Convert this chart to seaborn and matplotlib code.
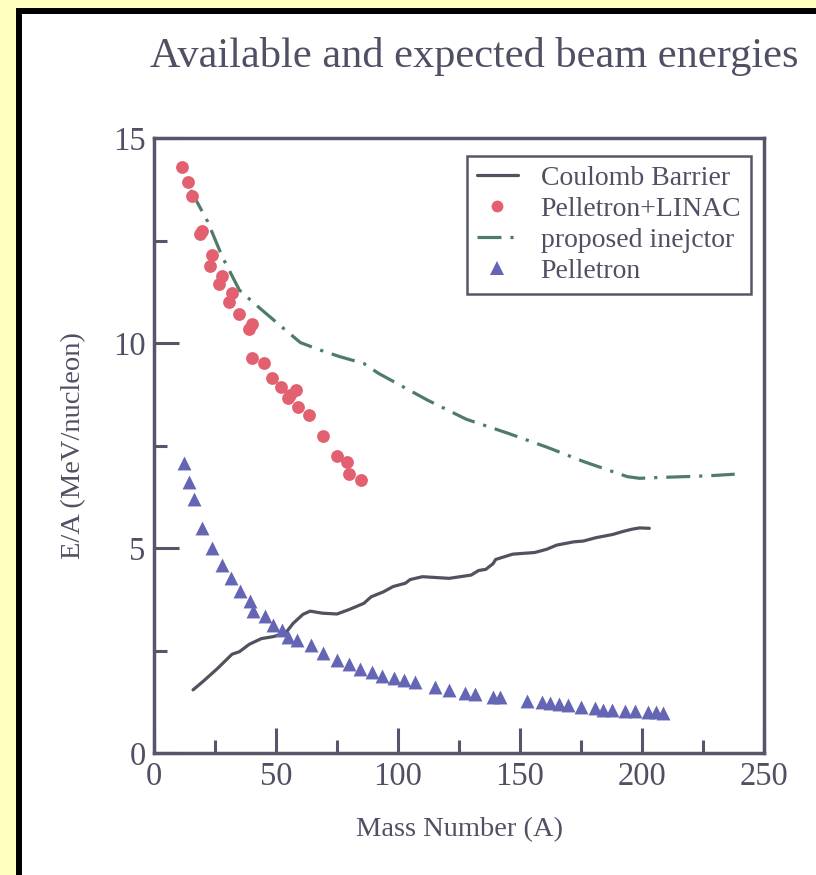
import matplotlib
matplotlib.use("Agg")
import matplotlib.pyplot as plt
from matplotlib.lines import Line2D
from matplotlib.patches import Rectangle
import pandas as pd
import seaborn as sns

# ---------------------------------------------------------------------------
# Data
# ---------------------------------------------------------------------------
coulomb_A = [16, 20, 26, 32, 35, 39, 44, 49, 54, 57, 61, 64, 69, 75, 80, 86,
             89, 94, 98, 103, 105, 110, 121, 130, 133, 136, 139, 140, 147,
             156, 161, 165, 172, 176, 181, 188, 192, 196, 199, 203]
coulomb_E = [1.54, 1.74, 2.06, 2.41, 2.47, 2.65, 2.79, 2.84, 2.93, 3.16, 3.38,
             3.46, 3.41, 3.39, 3.50, 3.65, 3.81, 3.93, 4.06, 4.14, 4.23, 4.30,
             4.26, 4.34, 4.45, 4.48, 4.62, 4.72, 4.85, 4.89, 4.97, 5.07, 5.15,
             5.17, 5.25, 5.33, 5.40, 5.46, 5.49, 5.48]

injector_A = [15, 22, 28, 35, 41, 53, 60, 68, 76, 86, 92, 112, 128, 145, 161,
              176, 194, 199, 207, 227, 238]
injector_E = [13.73, 12.96, 12.10, 11.29, 10.97, 10.36, 10.01, 9.83, 9.67,
              9.50, 9.26, 8.61, 8.14, 7.80, 7.46, 7.11, 6.74, 6.70, 6.72, 6.76,
              6.80]

linac_A = [11.6, 13.8, 15.7, 18.8, 19.8, 23.9, 23.0, 28.0, 26.8, 31.8, 30.9,
           35.0, 40.0, 38.9, 40.3, 45.1, 48.2, 51.9, 55.1, 55.8, 58.1, 59.2,
           63.7, 69.1, 74.9, 79.2, 80.0, 84.7]
linac_E = [14.30, 13.92, 13.59, 12.65, 12.72, 12.15, 11.89, 11.64, 11.43,
           11.23, 11.01, 10.70, 10.46, 10.34, 9.64, 9.52, 9.15, 8.92, 8.65,
           8.73, 8.85, 8.43, 8.24, 7.72, 7.24, 7.09, 6.80, 6.67]

pelletron_A = [12.3, 14.3, 16.4, 19.8, 23.6, 27.7, 31.4, 35.2, 39.3, 40.4,
               45.5, 48.9, 52.3, 55.1, 58.5, 64.2, 69.4, 74.9, 79.9, 84.4,
               89.2, 93.3, 98.4, 102.5, 107, 115.2, 121, 127.5, 131.6, 139,
               141.8, 152.7, 158.9, 162.3, 166.1, 169.5, 174.9, 180.7, 184.1,
               187.6, 193, 197.1, 202.6, 205.7, 208.7]
pelletron_E = [7.07, 6.60, 6.19, 5.50, 5.01, 4.59, 4.26, 3.96, 3.71, 3.47,
               3.33, 3.12, 3.00, 2.84, 2.76, 2.63, 2.43, 2.27, 2.16, 2.04,
               1.98, 1.89, 1.82, 1.78, 1.74, 1.62, 1.54, 1.46, 1.43, 1.37,
               1.37, 1.28, 1.24, 1.21, 1.19, 1.17, 1.13, 1.09, 1.06, 1.05,
               1.03, 1.02, 1.01, 1.01, 0.97]

# ---------------------------------------------------------------------------
# Style
# ---------------------------------------------------------------------------
TEXT = "#505064"
AXIS = "#56566a"
RED = "#e2606f"
BLUE = "#6565b6"
GREEN = "#4f7c68"
LINE = "#52525f"
YELLOW = "#ffffc0"

sns.set_theme(style="ticks")
plt.rcParams["font.family"] = ["Liberation Serif", "DejaVu Serif"]
plt.rcParams["text.color"] = TEXT

fig = plt.figure(figsize=(8.16, 8.75), dpi=100, facecolor=YELLOW)
# white panel with thick black frame (runs off the right and bottom edges)
fig.patches.append(Rectangle((19 / 816, -0.05), 1.0, 1 - 10.5 / 875 + 0.05,
                             transform=fig.transFigure, facecolor="white",
                             edgecolor="black", linewidth=4.3, zorder=-10))

ax = fig.add_axes([154 / 816, 122 / 875, 610 / 816, 615 / 875])
ax.set_facecolor("white")

coulomb = pd.DataFrame({"A": coulomb_A, "E": coulomb_E})
injector = pd.DataFrame({"A": injector_A, "E": injector_E})
linac = pd.DataFrame({"A": linac_A, "E": linac_E})
pelletron = pd.DataFrame({"A": pelletron_A, "E": pelletron_E})

dashdot = (0, (7.5, 2.8, 1, 2.8))

sns.lineplot(data=coulomb, x="A", y="E", ax=ax, color=LINE, linewidth=2.3,
             sort=False, estimator=None)
sns.lineplot(data=injector, x="A", y="E", ax=ax, color=GREEN, linewidth=2.3,
             linestyle=dashdot, sort=False, estimator=None)
sns.scatterplot(data=linac, x="A", y="E", ax=ax, color=RED, marker="o",
                s=85, linewidth=0, zorder=3)
sns.scatterplot(data=pelletron, x="A", y="E", ax=ax, color=BLUE, marker="^",
                s=100, linewidth=0, zorder=3)

ax.set_xlim(0, 250)
ax.set_ylim(0, 15)
ax.set_xticks([0, 50, 100, 150, 200, 250])
ax.set_xticks([25, 75, 125, 175, 225], minor=True)
ax.set_yticks([0, 5, 10, 15])
ax.set_yticks([2.5, 7.5, 12.5], minor=True)
ax.tick_params(which="both", direction="in", color=AXIS, width=2.2,
               labelsize=23.5, labelcolor=TEXT, top=False, right=False)
ax.tick_params(which="major", length=18, pad=6)
ax.tick_params(which="minor", length=9.5)
for spine in ax.spines.values():
    spine.set_color(AXIS)
    spine.set_linewidth(2.5)
    spine.set_visible(True)

ax.set_xlabel("Mass Number (A)", fontsize=20.5, color=TEXT)
ax.set_ylabel("E/A (MeV/nucleon)", fontsize=20.5, color=TEXT)
ax.xaxis.set_label_coords(0.5, -0.104)
ax.yaxis.set_label_coords(-0.112, 0.5)

fig.text(474 / 816, 1 - 67 / 875, "Available and expected beam energies",
         ha="center", va="baseline", fontsize=30.5, color=TEXT)

handles = [
    Line2D([], [], color=LINE, linewidth=2.3),
    Line2D([], [], color=RED, marker="o", linestyle="none", markersize=8.5,
           markeredgewidth=0),
    Line2D([], [], color=GREEN, linewidth=2.3, linestyle=dashdot),
    Line2D([], [], color=BLUE, marker="^", linestyle="none", markersize=9.5,
           markeredgewidth=0),
]
labels = ["Coulomb Barrier", "Pelletron+LINAC", "proposed inejctor", "Pelletron"]
leg = ax.legend(handles, labels, loc="upper left",
                bbox_to_anchor=(0.513, 0.971), borderaxespad=0,
                fontsize=20, frameon=True, fancybox=False, framealpha=1,
                edgecolor=AXIS, handlelength=1.5, handletextpad=0.8,
                labelspacing=0.2, borderpad=0.35)
leg.get_frame().set_linewidth(1.8)
for t in leg.get_texts():
    t.set_color(TEXT)

fig.savefig("out.png", dpi=100, facecolor=YELLOW)
